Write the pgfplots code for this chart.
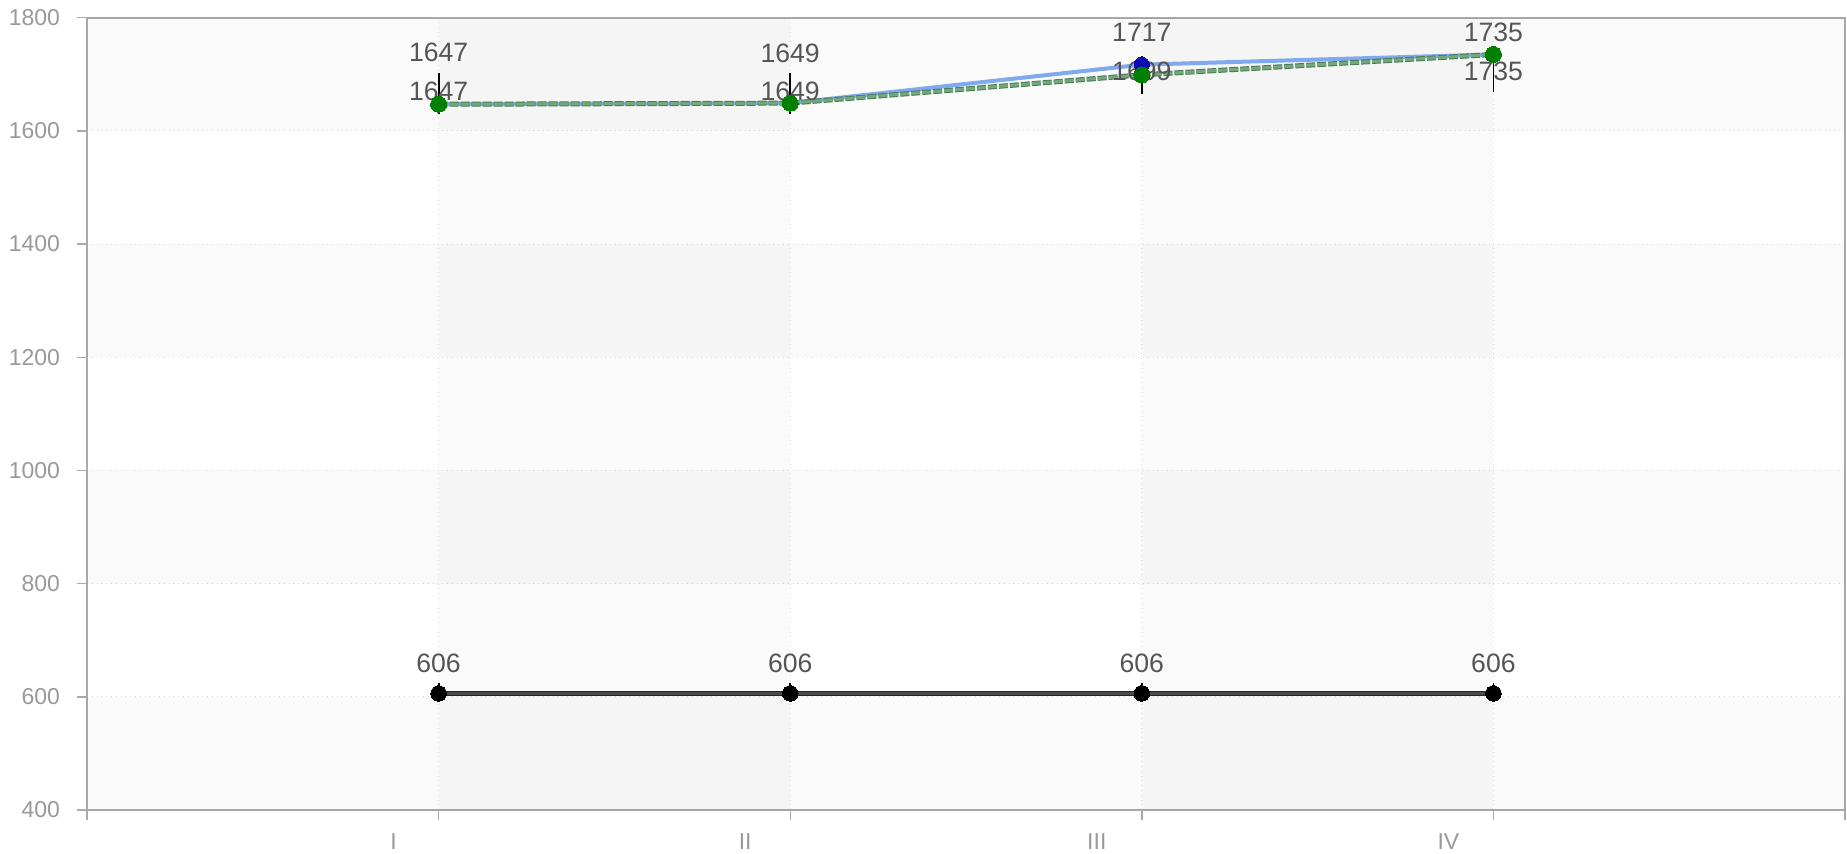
\documentclass[border=0pt]{standalone}
\usepackage{fontspec}
\setmainfont{Liberation Sans}
\usepackage{pgfplots}
\pgfplotsset{compat=1.18}
\definecolor{axisgray}{HTML}{AAAAAA}
\definecolor{gridgray}{HTML}{DDDDDD}
\definecolor{labgray}{HTML}{999999}
\definecolor{vallab}{HTML}{555555}
\definecolor{blueline}{HTML}{7FAAEE}
\definecolor{bluemark}{HTML}{0A0AB4}
\definecolor{greenfill}{HTML}{72A87C}
\definecolor{greenedge}{HTML}{4A7C54}
\definecolor{greenmark}{HTML}{008000}
\definecolor{darkline}{HTML}{4C4C4C}
\begin{document}
\begin{tikzpicture}
\begin{axis}[
  scale only axis, width=879pt, height=396.15pt,
  xmin=0, xmax=5, ymin=400, ymax=1800,
  xtick={0,1,2,3,4,5}, xticklabels={,I,II,III,IV,},
  ytick={400,600,...,1800},
  xtick pos=bottom, ytick pos=left,
  axis line style={color=axisgray, line width=1pt},
  tick align=outside, major tick length=5pt,
  tick style={color=axisgray, line width=0.7pt},
  grid=major, major grid style={color=gridgray, dotted, line width=0.5pt},
  tick label style={color=labgray, font=\fontsize{11.5}{13}\selectfont},
  /pgf/number format/assume math mode=true,
  /pgf/number format/1000 sep={},
  xticklabel style={xshift=-22.5pt, yshift=-6.8pt, inner sep=0pt},
  yticklabel style={xshift=-5pt},
  clip=false,
]
% background bands
\fill[black, fill opacity=0.02] (axis cs:0,400) rectangle (axis cs:5,600);
\fill[black, fill opacity=0.02] (axis cs:0,800) rectangle (axis cs:5,1000);
\fill[black, fill opacity=0.02] (axis cs:0,1200) rectangle (axis cs:5,1400);
\fill[black, fill opacity=0.02] (axis cs:0,1600) rectangle (axis cs:5,1800);
\fill[black, fill opacity=0.02] (axis cs:1,400) rectangle (axis cs:2,1800);
\fill[black, fill opacity=0.02] (axis cs:3,400) rectangle (axis cs:4,1800);

% series 1 (blue)
\addplot[blueline, line width=2pt, mark=*, mark size=3.8pt,
  mark options={fill=bluemark, draw=bluemark, line width=0pt}]
  coordinates {(1,1647) (2,1649) (3,1717) (4,1735)};
% series 2 (green dashed)
\addplot[greenedge, line width=2.5pt, dash pattern=on 4.5pt off 1pt, forget plot]
  coordinates {(1,1647) (2,1649) (3,1699) (4,1735)};
\addplot[greenfill, line width=1.5pt, dash pattern=on 4.5pt off 1pt,
  mark=*, mark size=4pt, mark options={solid, fill=greenmark, draw=greenmark, line width=0pt}]
  coordinates {(1,1647) (2,1649) (3,1699) (4,1735)};
% series 3 (black)
\addplot[black!85, line width=2.6pt, forget plot]
  coordinates {(1,606) (2,606) (3,606) (4,606)};
\addplot[darkline, line width=1.8pt, mark=*, mark size=3.9pt,
  mark options={fill=black, draw=black, line width=0pt}]
  coordinates {(1,606) (2,606) (3,606) (4,606)};

% vertical black bars
\addplot[black, line width=0.9pt] coordinates {(1,1630) (1,1702)};
\addplot[black, line width=0.9pt] coordinates {(2,1630) (2,1702)};
\addplot[black, line width=0.9pt] coordinates {(3,1665) (3,1732)};
\addplot[black, line width=0.9pt] coordinates {(4,1669) (4,1735)};
\addplot[black, line width=0.9pt] coordinates {(1,606) (1,624)};
\addplot[black, line width=0.9pt] coordinates {(2,606) (2,624)};
\addplot[black, line width=0.9pt] coordinates {(3,606) (3,624)};
\addplot[black, line width=0.9pt] coordinates {(4,606) (4,624)};

% value labels
\begin{scope}[every node/.style={color=vallab, font=\fontsize{13.3}{15}\selectfont, inner sep=0pt}]
\node at (axis cs:1,1739) {1647};
\node at (axis cs:2,1737) {1649};
\node at (axis cs:3,1774) {1717};
\node at (axis cs:4,1774) {1735};
\node at (axis cs:1,1669) {1647};
\node at (axis cs:2,1669) {1649};
\node at (axis cs:3,1706) {1699};
\node at (axis cs:4,1705) {1735};
\node at (axis cs:1,660) {606};
\node at (axis cs:2,660) {606};
\node at (axis cs:3,660) {606};
\node at (axis cs:4,660) {606};
\end{scope}
\end{axis}
\path ([xshift=-43.5pt,yshift=-22pt]current axis.south west) rectangle ([xshift=1pt,yshift=8.85pt]current axis.north east);
\end{tikzpicture}
\end{document}
